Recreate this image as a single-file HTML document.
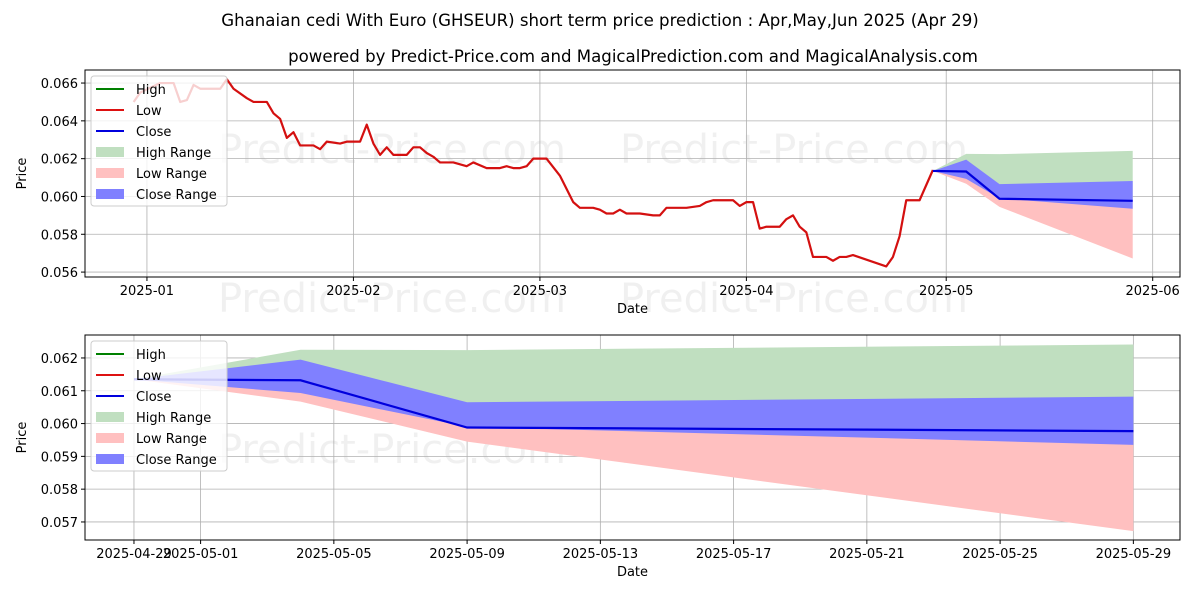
<!DOCTYPE html>
<html><head><meta charset="utf-8"><style>
body{margin:0;background:#fff}
svg text{font-family:"DejaVu Sans","Liberation Sans",sans-serif}
</style></head><body>
<svg id="c" width="1200" height="600" xmlns="http://www.w3.org/2000/svg">
<text x="600" y="26" text-anchor="middle" font-size="16.6">Ghanaian cedi With Euro (GHSEUR) short term price prediction : Apr,May,Jun 2025 (Apr 29)</text>
<text x="633" y="62" text-anchor="middle" font-size="16.6">powered by Predict-Price.com and MagicalPrediction.com and MagicalAnalysis.com</text>
</svg>
<script>
// historical: day offset from 2025-01-01, price
const histDays=[-2,-1,2,4,5,6,7,8,11,12,13,15,16,18,19,20,21,22,23,25,26,27,29,30,32,33,34,35,36,37,39,40,41,42,43,44,46,48,49,51,53,54,55,56,57,58,60,62,64,65,67,68,69,70,71,72,74,76,77,78,81,83,84,85,88,89,90,91,92,93,95,96,97,98,99,100,102,103,104,105,106,111,112,113,114,116,118];
const histVals=[0.0650,0.0655,0.0660,0.0660,0.0650,0.0651,0.0659,0.0657,0.0657,0.0662,0.0657,0.0652,0.0650,0.0650,0.0644,0.0641,0.0631,0.0634,0.0627,0.0627,0.0625,0.0629,0.0628,0.0629,0.0629,0.0638,0.0628,0.0622,0.0626,0.0622,0.0622,0.0626,0.0626,0.0623,0.0621,0.0618,0.0618,0.0616,0.0618,0.0615,0.0615,0.0616,0.0615,0.0615,0.0616,0.0620,0.0620,0.0611,0.0597,0.0594,0.0594,0.0593,0.0591,0.0591,0.0593,0.0591,0.0591,0.0590,0.0590,0.0594,0.0594,0.0595,0.0597,0.0598,0.0598,0.0595,0.0597,0.0597,0.0583,0.0584,0.0584,0.0588,0.0590,0.0584,0.0581,0.0568,0.0568,0.0566,0.0568,0.0568,0.0569,0.0563,0.0568,0.0579,0.0598,0.0598,0.0614];
// forecast: day offset from 2025-04-29
const fcDays=[0,5,10,30];
const fcClose=[0.06135,0.06132,0.05988,0.05977];
const fcHighTop=[0.06135,0.06225,0.06224,0.06241];
const fcCloseTop=[0.06135,0.06195,0.06065,0.06082];
const fcCloseBot=[0.06135,0.06093,0.05990,0.05935];
const fcLowBot=[0.06135,0.06067,0.05945,0.05672];
const topTicks=["2025-01","2025-02","2025-03","2025-04","2025-05","2025-06"];
const topTickDays=[0,31,59,90,120,151];
const topYTicks=[0.056,0.058,0.060,0.062,0.064,0.066];
const botTicks=["2025-04-29","2025-05-01","2025-05-05","2025-05-09","2025-05-13","2025-05-17","2025-05-21","2025-05-25","2025-05-29"];
const botTickDays=[0,2,6,10,14,18,22,26,30];
const botYTicks=[0.057,0.058,0.059,0.060,0.061,0.062];
const APR29=118;

const svg=document.getElementById('c');const NS="http://www.w3.org/2000/svg";
function el(t,a,p){const e=document.createElementNS(NS,t);for(const k in a)e.setAttribute(k,a[k]);(p||svg).appendChild(e);return e;}

function panel(P){
  const g=el('g',{});
  
  
  const X=d=>P.x0+(d-P.d0)*(P.x1-P.x0)/(P.d1-P.d0);
  const Y=v=>P.y1-(v-P.v0)*(P.y1-P.y0)/(P.v1-P.v0);
  P.wm.forEach(w=>{const t=el('text',{x:w[0],y:w[1],'font-size':40,fill:'#000','fill-opacity':0.06},g);t.textContent='Predict-Price.com';
    });
  P.xt.forEach((d,i)=>{const x=X(d);el('line',{x1:x,x2:x,y1:P.y0,y2:P.y1,stroke:'#b0b0b0','stroke-width':0.8},g);
    el('line',{x1:x,x2:x,y1:P.y1,y2:P.y1+4,stroke:'#000'},g);
    const t=el('text',{x:x,y:P.y1+18,'font-size':13,'text-anchor':'middle'},g);t.textContent=P.xl[i];
    });
  P.yt.forEach(v=>{const y=Y(v);el('line',{x1:P.x0,x2:P.x1,y1:y,y2:y,stroke:'#b0b0b0','stroke-width':0.8},g);
    el('line',{x1:P.x0-4,x2:P.x0,y1:y,y2:y,stroke:'#000'},g);
    const t=el('text',{x:P.x0-7,y:y+5,'font-size':13,'text-anchor':'end'},g);t.textContent=v.toFixed(3);
    });
  const fx=i=>X(P.fOff+fcDays[i]);
  function band(top,bot,fill,name){let d='';top.forEach((v,i)=>d+=(i?'L':'M')+fx(i)+','+Y(v));
    for(let i=bot.length-1;i>=0;i--)d+='L'+fx(i)+','+Y(bot[i]);const p=el('path',{d:d+'Z',fill:fill},g);
    }
  band(fcHighTop,fcClose,'#c0dfc0','high-range-band');
  band(fcClose,fcLowBot,'#ffc0c0','low-range-band');
  band(fcCloseTop,fcCloseBot,'#8080ff','close-range-band');
  if(P.hist){const pts=histDays.map((d,i)=>X(d)+','+Y(histVals[i])).join(' ');
    const l=el('polyline',{points:pts,fill:'none',stroke:'#d41010','stroke-width':2.2,'stroke-linejoin':'round'},g);
    }
  const cl=el('polyline',{points:fcDays.map((d,i)=>fx(i)+','+Y(fcClose[i])).join(' '),fill:'none',stroke:'#0000dd','stroke-width':2.2},g);
  
  el('rect',{x:P.x0,y:P.y0,width:P.x1-P.x0,height:P.y1-P.y0,fill:'none',stroke:'#000','stroke-width':1},g);
  const xt=el('text',{x:(P.x0+P.x1)/2,y:P.y1+36,'font-size':13,'text-anchor':'middle'},g);xt.textContent='Date';
  
  const cy=(P.y0+P.y1)/2;const yt=el('text',{x:26,y:cy,'font-size':13,'text-anchor':'middle',transform:'rotate(-90 26 '+cy+')'},g);yt.textContent='Price';
  
  const lg=el('g',{},g);
  const ly=P.y0+6;
  el('rect',{x:91,y:ly,width:136,height:130,rx:3,fill:'#fff','fill-opacity':0.8,stroke:'#ccc'},lg);
  const items=[['High','line','#008000'],['Low','line','#dd1111'],['Close','line','#0000dd'],['High Range','box','#c0dfc0'],['Low Range','box','#ffc0c0'],['Close Range','box','#8080ff']];
  items.forEach((it,i)=>{const y=ly+13+i*21;
    if(it[1]=='line')el('line',{x1:96,x2:124,y1:y,y2:y,stroke:it[2],'stroke-width':2},lg);
    else el('rect',{x:96,y:y-5,width:28,height:10,fill:it[2]},lg);
    const t=el('text',{x:136,y:y+5,'font-size':13},lg);t.textContent=it[0];
    });
}
panel({name:'history-panel',x0:85,x1:1180,y0:70,y1:277,d0:-9.3,d1:155.1,v0:0.05574,v1:0.06669,
  xt:topTickDays,xl:topTicks,yt:topYTicks,fOff:APR29,hist:true,wm:[[218,163],[620,163],[218,312],[620,312]]});
panel({name:'forecast-panel',x0:85,x1:1180,y0:335,y1:540,d0:-1.47,d1:31.4,v0:0.05645,v1:0.0627,
  xt:botTickDays,xl:botTicks,yt:botYTicks,fOff:0,hist:false,wm:[[218,463],[620,463]]});
</script>
</body></html>
